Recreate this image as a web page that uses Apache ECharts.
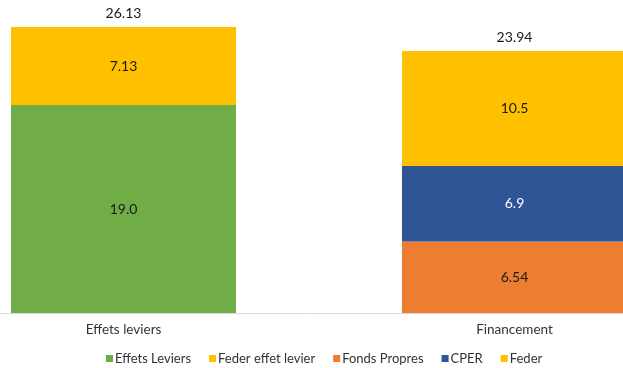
<!DOCTYPE html>
<html>
<head>
<meta charset="utf-8">
<script src="https://cdn.jsdelivr.net/npm/echarts@6/dist/echarts.min.js"></script>
<style>
html,body{margin:0;padding:0;background:#fff;}
#chart{width:623px;height:368px;}
</style>
</head>
<body>
<div id="chart"></div>
<script>
var categories = ['Effets leviers', 'Financement'];
var effetsLeviers = [19.0, null];
var federEffetLevier = [7.13, null];
var fondsPropres = [null, 6.54];
var cper = [null, 6.9];
var feder = [null, 10.5];
var totals = [26.13, 23.94];

var FONT = 'Lato';
function lbl(color, decimals) {
  return {
    show: true, position: 'inside', color: color, fontFamily: FONT, fontSize: 14,
    formatter: function (p) { return decimals ? Number(p.value).toFixed(decimals) : String(p.value); }
  };
}
var chart = echarts.init(document.getElementById('chart'));
chart.setOption({
  animation: false,
  textStyle: { fontFamily: FONT },
  grid: [
    { left: 123.5, right: 108.5, top: 6.5, bottom: 55 },
    { left: 0, right: 0, top: 6.5, bottom: 54.5 }
  ],
  legend: {
    data: ['Effets Leviers', 'Feder effet levier', 'Fonds Propres', 'CPER', 'Feder'],
    top: 347, left: 101, itemWidth: 7, itemHeight: 7, itemGap: 18,
    icon: 'rect',
    textStyle: { fontFamily: FONT, fontSize: 13, color: '#333', padding: [0, 0, 0, -3] }
  },
  xAxis: [
    {
      type: 'category', data: categories, gridIndex: 0, boundaryGap: false,
      axisLine: { show: false },
      axisTick: { show: false },
      axisLabel: { color: '#333', fontFamily: FONT, fontSize: 13.5, margin: 10 }
    },
    {
      type: 'value', gridIndex: 1, min: 0, max: 1,
      axisLine: { show: true, onZero: false, lineStyle: { color: '#d9d9d9' } },
      axisTick: { show: false }, axisLabel: { show: false }, splitLine: { show: false }
    }
  ],
  yAxis: [
    { type: 'value', gridIndex: 0, min: 0, max: 28, show: false, splitLine: { show: false } },
    { type: 'value', gridIndex: 1, min: 0, max: 1, show: false, splitLine: { show: false } }
  ],
  series: [
    { name: 'Effets Leviers', type: 'bar', stack: 's', barWidth: 225, data: effetsLeviers,
      itemStyle: { color: '#70AD47' }, label: lbl('#1a1a1a', 1) },
    { name: 'Feder effet levier', type: 'bar', stack: 's', barWidth: 225, data: federEffetLevier,
      itemStyle: { color: '#FFC000' }, label: lbl('#1a1a1a', 0) },
    { name: 'Fonds Propres', type: 'bar', stack: 's', barWidth: 225, data: fondsPropres,
      itemStyle: { color: '#ED7D31' }, label: lbl('#1a1a1a', 0) },
    { name: 'CPER', type: 'bar', stack: 's', barWidth: 225, data: cper,
      itemStyle: { color: '#2F5597' }, label: lbl('#ffffff', 0) },
    { name: 'Feder', type: 'bar', stack: 's', barWidth: 225, data: feder,
      itemStyle: { color: '#FFC000' }, label: lbl('#1a1a1a', 0) },
    { name: 'Total', type: 'bar', stack: 's', barWidth: 225, data: totals.map(function () { return 0; }),
      itemStyle: { color: 'transparent' },
      label: { show: true, position: 'top', distance: 6, color: '#1a1a1a', fontFamily: FONT, fontSize: 14,
        formatter: function (p) { return totals[p.dataIndex].toFixed(2); } } }
  ]
});
</script>
</body>
</html>
